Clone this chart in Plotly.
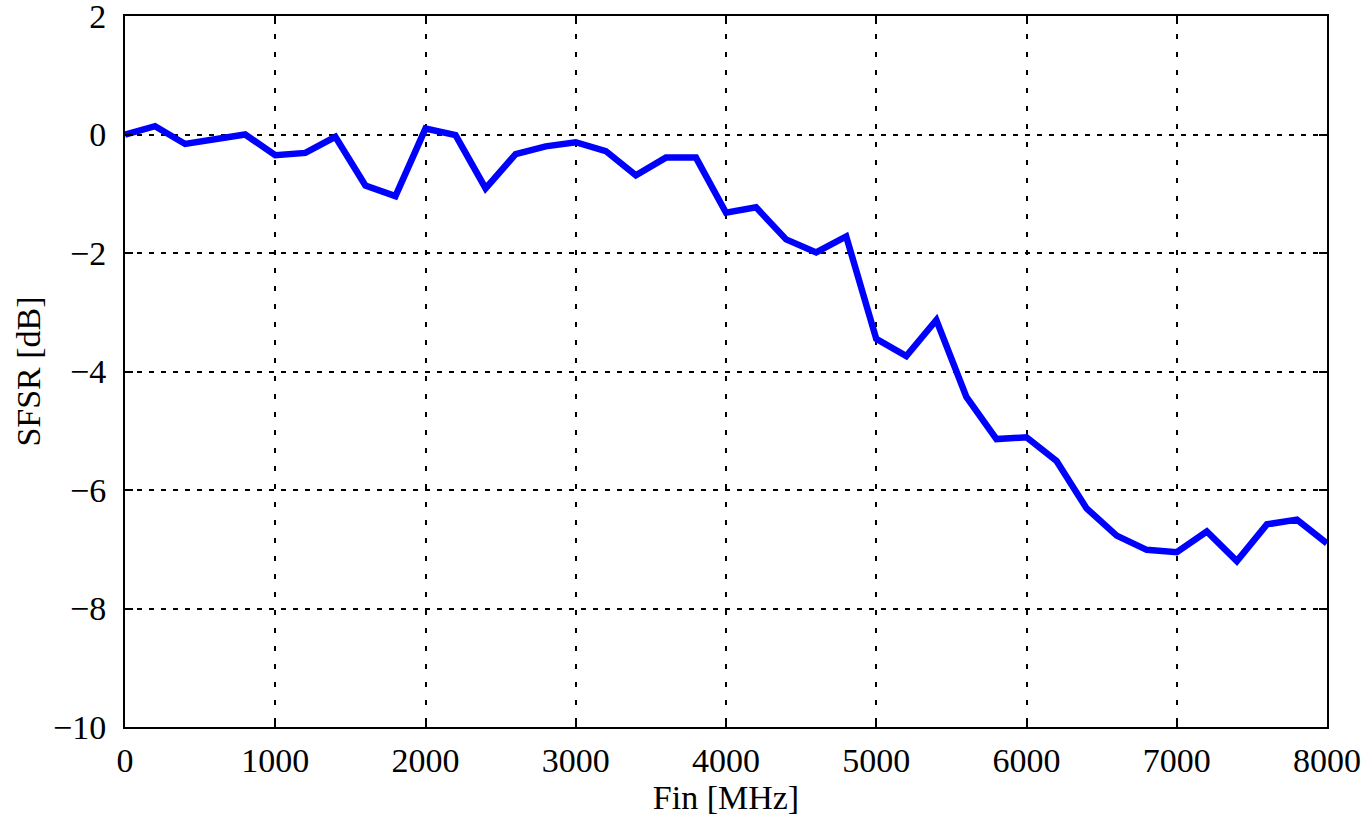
import plotly.graph_objects as go

fin_mhz = list(range(0, 8001, 200))
sfsr_db = [0.0, 0.14, -0.16, -0.08, 0.0, -0.35, -0.31, -0.04, -0.86, -1.04,
           0.10, -0.01, -0.91, -0.33, -0.20, -0.13, -0.28, -0.69, -0.39, -0.39,
           -1.32, -1.23, -1.77, -1.99, -1.72, -3.45, -3.74, -3.13, -4.43, -5.14,
           -5.11, -5.51, -6.31, -6.77, -7.01, -7.05, -6.70, -7.20, -6.58, -6.50,
           -6.90]

x_ticks = [0, 1000, 2000, 3000, 4000, 5000, 6000, 7000, 8000]
y_ticks = [2, 0, -2, -4, -6, -8, -10]

font_family = "Liberation Serif, Times New Roman, serif"
fs = 34

fig = go.Figure()
fig.add_trace(go.Scatter(
    x=fin_mhz, y=sfsr_db, mode="lines",
    line=dict(color="#0000ff", width=6.5),
    showlegend=False,
))

axis_common = dict(
    showline=True, linecolor="black", linewidth=2, mirror="ticks",
    ticks="inside", ticklen=8, tickwidth=2, tickcolor="black",
    showgrid=True, gridcolor="black", gridwidth=1.6,
    zeroline=False,
    ticklabeloverflow="allow",
    tickfont=dict(family=font_family, size=fs, color="black"),
)

fig.update_xaxes(
    **axis_common,
    range=[0, 8000], tickvals=x_ticks, ticktext=[str(v) for v in x_ticks],
    griddash="5px,13px",
    ticklabelstandoff=2,
    title=dict(text="Fin [MHz]", font=dict(family=font_family, size=fs, color="black"), standoff=4),
)
fig.update_yaxes(
    **axis_common,
    range=[-10, 2], tickvals=y_ticks,
    griddash="5px,7px",
    ticklabelstandoff=10,
    title=dict(text="SFSR [dB]", font=dict(family=font_family, size=fs, color="black"), standoff=2),
)

fig.update_layout(
    width=1369, height=816,
    margin=dict(l=125, r=42, t=16, b=89, autoexpand=False),
    plot_bgcolor="white", paper_bgcolor="white",
    font=dict(family=font_family, color="black"),
)

fig.write_html("out.html")
